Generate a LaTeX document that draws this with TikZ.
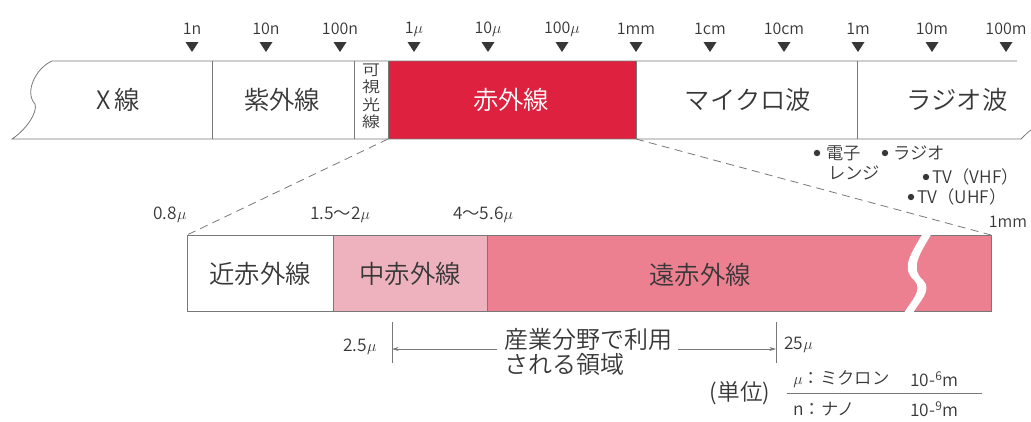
\documentclass[tikz,border=0pt]{standalone}
\usepackage{fontspec}
\setmainfont{Noto Sans CJK JP}[UprightFont={* DemiLight}]
\usetikzlibrary{arrows.meta}

\definecolor{irred}{RGB}{221,33,62}
\definecolor{midpink}{RGB}{238,178,190}
\definecolor{farpink}{RGB}{236,128,145}
\definecolor{inkgray}{RGB}{55,55,55}
\definecolor{rulegray}{RGB}{120,120,120}

\begin{document}
\begin{tikzpicture}[x=0.75pt,y=-0.75pt,
    every node/.style={text=inkgray,inner sep=0pt},
    bandlab/.style={font=\fontsize{19}{19}\selectfont},
    ticklab/.style={font=\fontsize{12}{12}\selectfont},
    smalllab/.style={font=\fontsize{13}{15}\selectfont},
    edge/.style={draw=rulegray,line width=0.6pt},
    usearrow/.style={edge,-{Stealth[length=5pt,width=3pt]}}]
  \useasboundingbox (0,0) rectangle (1031,421);

  % wavelength scale
  \foreach \lab [count=\i from 0] in {1n,10n,100n,1$\mu$,10$\mu$,100$\mu$,1mm,1cm,10cm,1m,10m,100m} {
    \pgfmathsetmacro{\xx}{192+74*\i}
    \fill[inkgray] (\xx-6.5,42) -- ++(13,0) -- ++(-6.5,10) -- cycle;
    \node[ticklab] (t\i) at (\xx,29) {\lab};
  }

  % spectrum band
  \fill[irred] (388,61) rectangle (636,139);
  \draw[edge] (1017,61) -- (52,61) .. controls (36,68) and (24,92) .. (35,104)
    .. controls (38,112) and (26,130) .. (12,139) -- (1021,139)
    .. controls (1025,135) and (1028,132) .. (1031,130);
  \foreach \xx in {212,354,388,636,857}
    \draw[edge] (\xx,61) -- (\xx,139);
  \coordinate (ir-sw) at (388,139);
  \coordinate (ir-se) at (636,139);

  \node[bandlab] (xray) at (118,100) {X\,線};
  \node[bandlab] (uv) at (282,100) {紫外線};
  \node (vis) at (371,98) {\scalebox{1}[0.84]{\fontsize{13.5}{13.5}\selectfont
    \begin{tabular}{@{}c@{}}可\\視\\光\\線\end{tabular}}};
  \node[bandlab,text=white] (ir) at (511,100) {赤外線};
  \node[bandlab] (mw) at (748,100) {マイクロ波};
  \node[bandlab] (radio) at (957,100) {ラジオ波};

  % uses
  \fill[inkgray] (817,153) circle (3.2);
  \node[smalllab,anchor=west] (oven) at (826,153) {電子};
  \node[smalllab,anchor=west] (oven2) at (828,173) {レンジ};
  \fill[inkgray] (885,153) circle (3.2);
  \node[smalllab,anchor=west] (bcast) at (893,153) {ラジオ};
  \fill[inkgray] (926,177) circle (3.2);
  \node[smalllab,anchor=west] (vhf) at (932,177) {TV（VHF）};
  \fill[inkgray] (911,197) circle (3.2);
  \node[smalllab,anchor=west] (uhf) at (917,197) {TV（UHF）};

  % infrared detail
  \draw[edge] (187,235) rectangle (333,311);
  \draw[edge,fill=midpink] (333,235) rectangle (487,311);
  \draw[edge,fill=farpink] (487,235) rectangle (991,311);
  \fill[white] (923,233) .. controls (912,252) and (900,268) .. (914,280)
    .. controls (924,290) and (910,302) .. (904,313) -- (913,313)
    .. controls (919,302) and (933,290) .. (923,280)
    .. controls (909,268) and (921,252) .. (932,233) -- cycle;
  \coordinate (near-nw) at (187,235);
  \coordinate (far-ne) at (991,235);

  \node[bandlab] (near) at (260,274) {近赤外線};
  \node[bandlab] (mid) at (410,274) {中赤外線};
  \node[bandlab] (far) at (700,275) {遠赤外線};

  \node[smalllab] (l08) at (170,215) {0.8$\mu$};
  \node[smalllab] (l15) at (340,215) {1.5〜2$\mu$};
  \node[smalllab] (l40) at (483,215) {4〜5.6$\mu$};
  \node[font=\fontsize{12}{12}\selectfont] (l1mm) at (1008,222) {1mm};

  \draw[edge,dash pattern=on 6pt off 4pt] (ir-sw) -- (near-nw);
  \draw[edge,dash pattern=on 6pt off 4pt] (ir-se) -- (far-ne);

  % industrial range
  \draw[edge] (392,322) -- (392,363);
  \draw[edge] (776,322) -- (776,363);
  \coordinate (lo) at (392,349);
  \coordinate (hi) at (776,349);
  \node[smalllab] (l25a) at (360,347) {2.5$\mu$};
  \node[smalllab,anchor=west] (l25b) at (784,345) {25$\mu$};
  \node[font=\fontsize{18}{18.8}\selectfont,align=left,anchor=west] (use) at (504,352) {産業分野で利用\\される領域};
  \draw[usearrow] ([xshift=-5pt]use.west |- lo) -- (lo);
  \draw[usearrow] ([xshift=4pt]use.east |- hi) -- (hi);

  % units
  \node[font=\fontsize{17}{17}\selectfont] (unit) at (740,393) {(単位)};
  \draw[edge] (787,393) -- (982,393);
  \node[smalllab,anchor=west] (micro) at (793,379) {$\mu$：ミクロン};
  \node[smalllab,anchor=west] (micro-v) at (910,379) {10-\textsuperscript{6}m};
  \node[smalllab,anchor=west] (nano) at (793,409) {n：ナノ};
  \node[smalllab,anchor=west] (nano-v) at (910,409) {10-\textsuperscript{9}m};
\end{tikzpicture}
\end{document}
